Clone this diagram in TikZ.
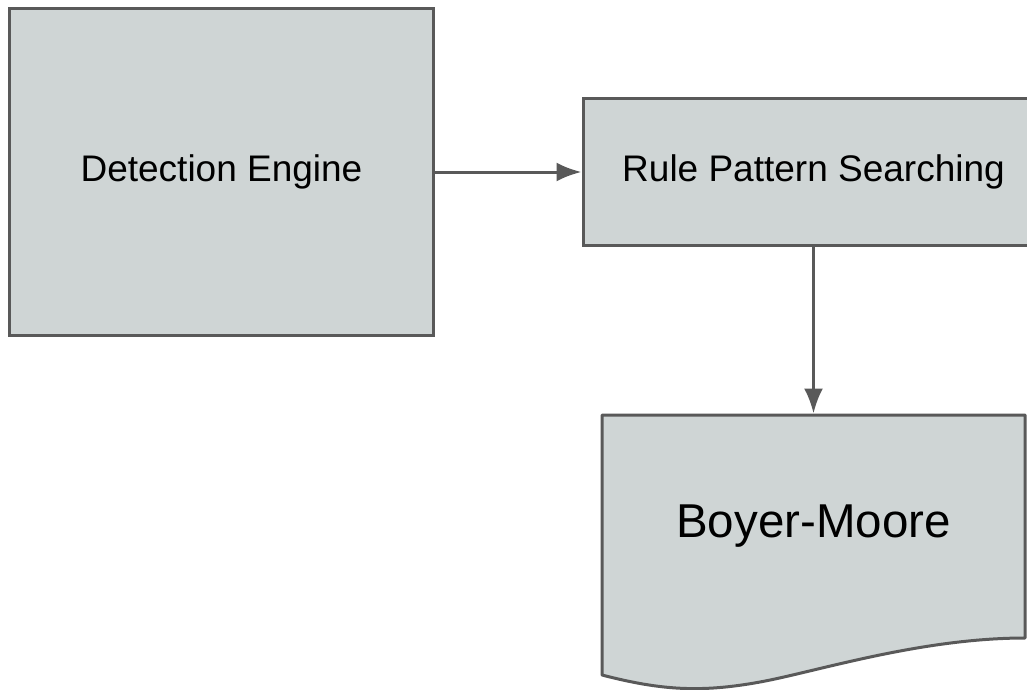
\documentclass[tikz,border=0pt]{standalone}
\usepackage{fontspec}
\setmainfont{Liberation Sans}
\usetikzlibrary{positioning,arrows.meta}
\definecolor{boxfill}{HTML}{CFD5D5}
\definecolor{boxline}{HTML}{595959}

\begin{document}
\begin{tikzpicture}[x=1pt,y=-1pt]
\tikzstyle{block}=[rectangle, draw=boxline, fill=boxfill, line width=3pt, inner sep=0pt, font=\fontsize{37}{44}\selectfont]
\tikzstyle{doctext}=[rectangle, inner sep=0pt, outer sep=1.5pt, font=\fontsize{47.5}{56}\selectfont]
\tikzstyle{connect}=[-{Latex[length=25pt,width=19pt]}, draw=boxline, line width=3pt]
\useasboundingbox (0,0) rectangle (1027,690);

\node[block, minimum width=424pt, minimum height=326pt] (det) at (221.5,172) {Detection Engine};
\node[block, minimum width=461pt, minimum height=147pt] (rule) at (813.5,172) {Rule Pattern Searching};

% document shape with wavy bottom
\filldraw[fill=boxfill, draw=boxline, line width=3pt, line join=round]
	(602,415) -- (1025,415) -- (1025,638)
	.. controls (920,638) and (815,672) .. (760,682)
	.. controls (700,693) and (660,690) .. (602,675) -- cycle;
\node[doctext, minimum width=423pt, minimum height=223pt] (bm) at (813.5,526.5) {Boyer-Moore};

\path
	(det) edge[connect] (rule)
	(rule) edge[connect] (bm);

\end{tikzpicture}
\end{document}
